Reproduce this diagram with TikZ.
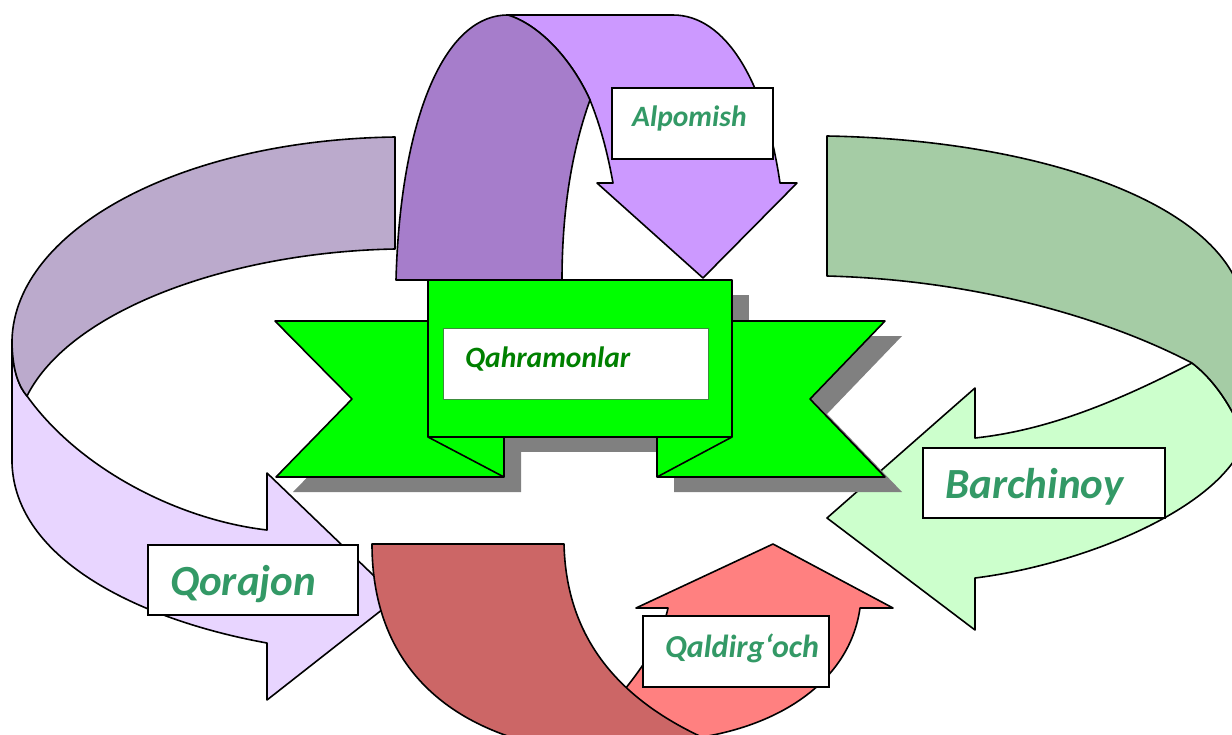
\documentclass[tikz,border=0pt]{standalone}
\usepackage{fontspec}
\setmainfont{Carlito}

\definecolor{lilacdark}{HTML}{BBAACC}
\definecolor{lilaclight}{HTML}{E8D5FF}
\definecolor{purpledark}{HTML}{A67DCB}
\definecolor{purplelight}{HTML}{CC99FF}
\definecolor{ribbongreen}{HTML}{00FF00}
\definecolor{ribbonshadow}{HTML}{808080}
\definecolor{sagedark}{HTML}{A5CCA5}
\definecolor{sagelight}{HTML}{CCFFCC}
\definecolor{reddark}{HTML}{CC6666}
\definecolor{redlight}{HTML}{FF8080}
\definecolor{labelgreen}{HTML}{339966}
\definecolor{titlegreen}{HTML}{008000}
\definecolor{titleline}{HTML}{3C8C3C}

\tikzset{
  band/.style={draw=black, line width=1.6pt, line join=round},
  tagbox/.style={draw=black, line width=2pt, fill=white, inner sep=0pt},
  tagtext/.style={text=labelgreen, inner sep=0pt, anchor=base west},
  smalltag/.style={tagtext, font=\fontsize{29.5}{35}\selectfont\bfseries\itshape},
  bigtag/.style={tagtext, font=\fontsize{43}{51}\selectfont\bfseries\itshape},
}

\begin{document}
\begin{tikzpicture}[x=1pt,y=-1pt]
\useasboundingbox (0,0) rectangle (1232,734);
\clip (0,0) rectangle (1232,734);

% Qorajon
\draw[band, fill=lilaclight] (12,340) .. controls (12,372) and (20,388) .. (27,396)
  .. controls (80,470) and (180,520) .. (267,530) -- (267,473) -- (397,598)
  -- (267,700) -- (267,643) .. controls (140,620) and (15,560) .. (12,463) -- cycle;
\draw[band, fill=lilacdark] (395,137) .. controls (180,140) and (15,230) .. (12,340)
  .. controls (12,372) and (20,388) .. (27,396)
  .. controls (70,310) and (230,252) .. (395,249) -- cycle;

% Alpomish
\draw[band, fill=purplelight] (508,15) -- (673,15) .. controls (725,15) and (765,80) .. (780,183)
  -- (797,183) -- (703,278) -- (597,183) -- (613,183)
  .. controls (607,150) and (600,125) .. (590,100)
  .. controls (572,60) and (540,25) .. (508,15) -- cycle;
\draw[band, fill=purpledark] (396,280) .. controls (400,130) and (440,15) .. (508,15)
  .. controls (540,25) and (572,60) .. (590,100)
  .. controls (572,150) and (562,210) .. (562,280) -- cycle;

% Barchinoy
\draw[band, fill=sagelight] (1192,363) .. controls (1120,400) and (1050,430) .. (975,438)
  -- (975,388) -- (827,518) -- (975,630) -- (975,578)
  .. controls (1080,565) and (1220,510) .. (1245,440)
  .. controls (1232,405) and (1212,378) .. (1192,363) -- cycle;
\draw[band, fill=sagedark] (827,136) .. controls (1050,140) and (1245,210) .. (1245,320)
  -- (1245,440) .. controls (1232,405) and (1212,378) .. (1192,363)
  .. controls (1110,320) and (980,280) .. (827,276) -- cycle;

% Qahramonlar ribbon
\begin{scope}[shift={(17,15)}]
  \fill[ribbonshadow] (275,321) -- (504,321) -- (504,477) -- (276,477) -- (352,399) -- cycle;
  \fill[ribbonshadow] (885,321) -- (657,321) -- (657,477) -- (885,477) -- (810,399) -- cycle;
  \fill[ribbonshadow] (428,280) rectangle (732,437);
\end{scope}
\draw[band, fill=ribbongreen] (275,321) -- (504,321) -- (504,477) -- (276,477) -- (352,399) -- cycle;
\draw[band, fill=ribbongreen] (885,321) -- (657,321) -- (657,477) -- (885,477) -- (810,399) -- cycle;
\draw[band] (428,437) -- (504,477) (732,437) -- (657,477);
\draw[band, fill=ribbongreen] (428,280) rectangle (732,437);

% Qaldirg'och
\draw[band, fill=redlight] (622,693) .. controls (640,670) and (660,645) .. (668,608)
  -- (636,608) -- (773,544) -- (893,608) -- (860,608)
  .. controls (850,680) and (780,730) .. (680,740) -- (680,770) -- (560,770) -- (560,650) -- cycle;
\draw[band, fill=reddark] (372,544) -- (564,544) .. controls (566,630) and (610,700) .. (720,745)
  -- (720,770) -- (520,770) -- (520,740) .. controls (420,710) and (372,640) .. (372,544) -- cycle;

% labels
\node[tagbox, minimum width=161pt, minimum height=71pt] (alpbox) at (692.5,123.5) {};
\node[smalltag] (alp) at (632,126) {Alpomish};
\node[tagbox, draw=titleline, line width=0.8pt, minimum width=265pt, minimum height=71pt] (qahbox) at (575.5,363.5) {};
\node[smalltag, text=titlegreen] (qah) at (465,367) {Qahramonlar};
\node[tagbox, minimum width=210pt, minimum height=70pt] (qorbox) at (253,580) {};
\node[bigtag] (qor) at (170,595) {Qorajon};
\node[tagbox, minimum width=242pt, minimum height=70pt] (barbox) at (1044,483) {};
\node[bigtag] (bar) at (945,498) {Barchinoy};
\node[tagbox, minimum width=186pt, minimum height=71pt] (qalbox) at (736,651.5) {};
\node[smalltag, font=\fontsize{32}{38}\selectfont\bfseries\itshape] (qal) at (665,657) {Qaldirg‘och};
\end{tikzpicture}
\end{document}
